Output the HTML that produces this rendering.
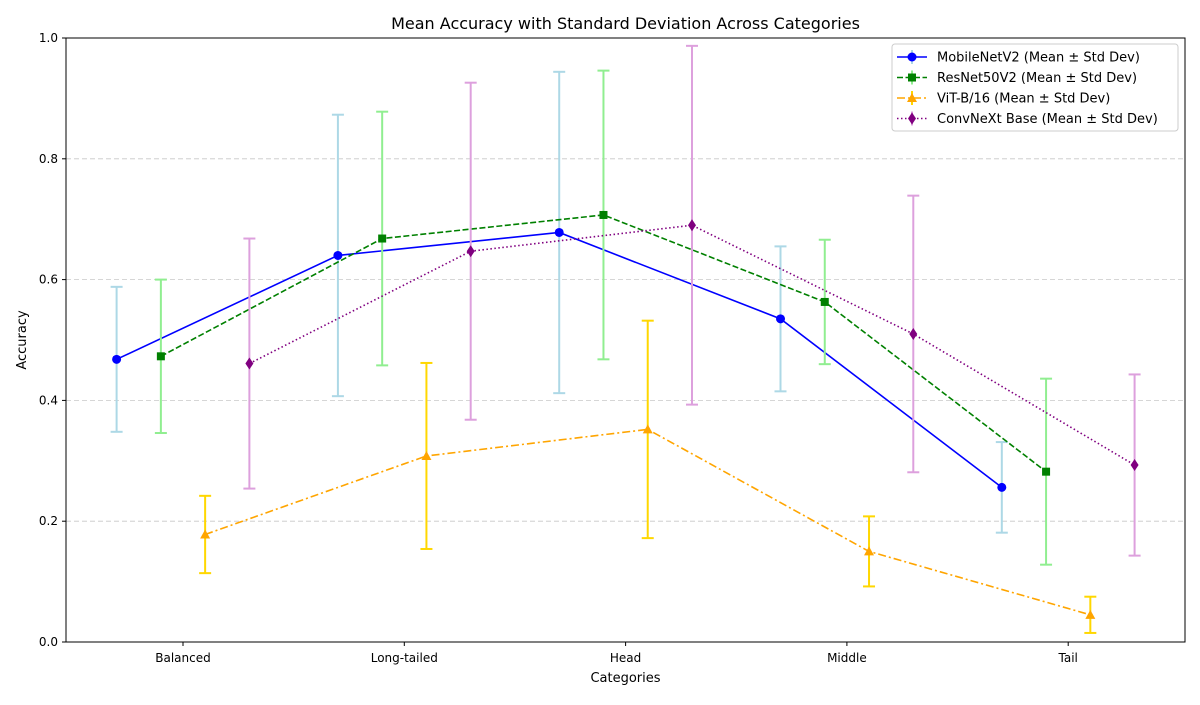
<!DOCTYPE html>
<html><head><meta charset="utf-8"><style>
body{margin:0;background:#fff;font-family:"Liberation Sans","DejaVu Sans",sans-serif;}
svg text{font-family:"DejaVu Sans","Liberation Sans",sans-serif;}
</style></head><body>
<svg id="chart" width="1200" height="700" xmlns="http://www.w3.org/2000/svg"></svg>
<script>
const categories=["Balanced","Long-tailed","Head","Middle","Tail"];
const seriesNames=["MobileNetV2 (Mean ± Std Dev)","ResNet50V2 (Mean ± Std Dev)","ViT-B/16 (Mean ± Std Dev)","ConvNeXt Base (Mean ± Std Dev)"];
const meanMobile=[0.468,0.640,0.678,0.535,0.256];
const stdMobile=[0.120,0.233,0.266,0.120,0.075];
const meanResNet=[0.473,0.668,0.707,0.563,0.282];
const stdResNet=[0.127,0.210,0.239,0.103,0.154];
const meanViT=[0.178,0.308,0.352,0.150,0.045];
const stdViT=[0.064,0.154,0.180,0.058,0.030];
const meanConv=[0.461,0.647,0.690,0.510,0.293];
const stdConv=[0.207,0.279,0.297,0.229,0.150];
const yTicks=[0.0,0.2,0.4,0.6,0.8,1.0];

const NS="http://www.w3.org/2000/svg";
const svg=document.getElementById('chart');
const L=66,R=1185,T=38,B=642;
const step=221.3, x0=183;
const xs=i=>x0+i*step;
const ys=v=>B-(B-T)*v;
function mk(tag,attrs,parent){const e=document.createElementNS(NS,tag);for(const k in attrs)e.setAttribute(k,attrs[k]);(parent||svg).appendChild(e);return e;}

// grid
yTicks.forEach(t=>{
  if(t>0&&t<1){const g=mk('line',{x1:L,x2:R,y1:ys(t),y2:ys(t),stroke:'#c8c8c8','stroke-dasharray':'5,3','stroke-width':0.8});
  
  }
  mk('line',{x1:L-4,x2:L,y1:ys(t),y2:ys(t),stroke:'#000'});
  const tx=mk('text',{x:L-8,y:ys(t)+4,'text-anchor':'end','font-size':12});tx.textContent=t.toFixed(1);
  
  
});
categories.forEach((c,i)=>{
  mk('line',{x1:xs(i),x2:xs(i),y1:B,y2:B+4,stroke:'#000'});
  const tx=mk('text',{x:xs(i),y:B+20,'text-anchor':'middle','font-size':12});tx.textContent=c;
  
  
});

const series=[
 {m:meanMobile,s:stdMobile,c:'#0000ff',e:'#add8e6',dash:'',mk:'circle',off:-0.3},
 {m:meanResNet,s:stdResNet,c:'#008000',e:'#90ee90',dash:'6,2.5',mk:'square',off:-0.1},
 {m:meanViT,s:stdViT,c:'#ffa500',e:'#ffd700',dash:'8,3,2,3',mk:'tri',off:0.1},
 {m:meanConv,s:stdConv,c:'#800080',e:'#dda0dd',dash:'1.5,2.5',mk:'diamond',off:0.3}
];
function marker(type,x,y,color,parent){
  let e;
  if(type==='circle')e=mk('circle',{cx:x,cy:y,r:4.5,fill:color},parent);
  else if(type==='square')e=mk('rect',{x:x-4,y:y-4,width:8,height:8,fill:color},parent);
  else if(type==='tri')e=mk('polygon',{points:`${x},${y-5} ${x-5},${y+4} ${x+5},${y+4}`,fill:color},parent);
  else e=mk('polygon',{points:`${x},${y-6} ${x-4},${y} ${x},${y+6} ${x+4},${y}`,fill:color},parent);
  return e;
}
series.forEach((sr,k)=>{
  const g=mk('g',{});
  
  
  sr.m.forEach((v,i)=>{
    const x=xs(i)+sr.off*step;
    const eb=mk('g',{stroke:sr.e,'stroke-width':2},g);
    
    
    mk('line',{x1:x,x2:x,y1:ys(v-sr.s[i]),y2:ys(v+sr.s[i])},eb);
    mk('line',{x1:x-6,x2:x+6,y1:ys(v-sr.s[i]),y2:ys(v-sr.s[i])},eb);
    mk('line',{x1:x-6,x2:x+6,y1:ys(v+sr.s[i]),y2:ys(v+sr.s[i])},eb);
  });
  const pts=sr.m.map((v,i)=>`${xs(i)+sr.off*step},${ys(v)}`).join(' ');
  const pl=mk('polyline',{points:pts,fill:'none',stroke:sr.c,'stroke-width':1.6,'stroke-dasharray':sr.dash},g);
  
  
  sr.m.forEach((v,i)=>{
    const p=marker(sr.mk,xs(i)+sr.off*step,ys(v),sr.c,g);
    
    
  });
});
// frame
mk('rect',{x:L,y:T,width:R-L,height:B-T,fill:'none',stroke:'#000','stroke-width':1});
// titles
let t=mk('text',{x:(L+R)/2,y:29,'text-anchor':'middle','font-size':16});t.textContent='Mean Accuracy with Standard Deviation Across Categories';


t=mk('text',{x:(L+R)/2,y:682,'text-anchor':'middle','font-size':13});t.textContent='Categories';


t=mk('text',{x:26,y:340,'text-anchor':'middle','font-size':13,transform:'rotate(-90 26 340)'});t.textContent='Accuracy';


// legend
const lg=mk('g',{});


mk('rect',{x:892,y:44,width:286,height:87,rx:3,fill:'#fff','fill-opacity':0.8,stroke:'#ccc'},lg);
series.forEach((sr,k)=>{
  const y=57+k*20.5;
  const e=mk('g',{},lg);
  
  
  mk('line',{x1:912,x2:912,y1:y-7,y2:y+7,stroke:sr.e,'stroke-width':2},e);
  mk('line',{x1:897,x2:927,y1:y,y2:y,stroke:sr.c,'stroke-width':1.6,'stroke-dasharray':sr.dash},e);
  marker(sr.mk,912,y,sr.c,e);
  const tx=mk('text',{x:937,y:y+4.5,'font-size':13},e);tx.textContent=seriesNames[k];
});
</script>
</body></html>
